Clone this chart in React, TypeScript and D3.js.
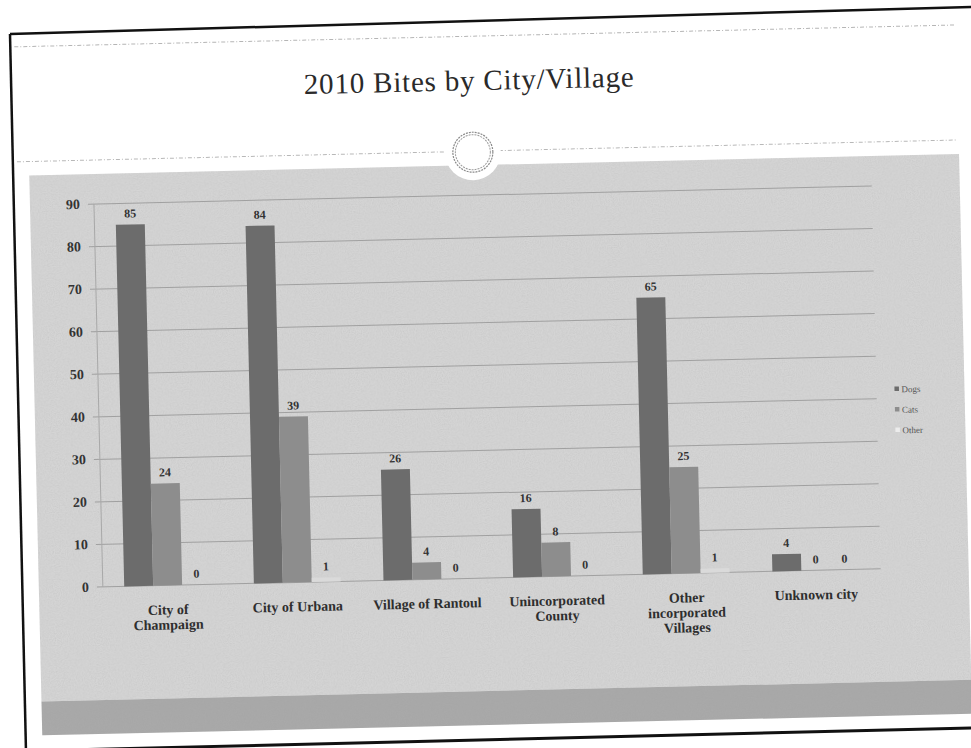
import React from "react";
import * as d3 from "d3";

// ---- data ----
const categories = [
  "City of Champaign",
  "City of Urbana",
  "Village of Rantoul",
  "Unincorporated County",
  "Other incorporated Villages",
  "Unknown city",
];
const categoryLines = [
  ["City of", "Champaign"],
  ["City of Urbana"],
  ["Village of Rantoul"],
  ["Unincorporated", "County"],
  ["Other", "incorporated", "Villages"],
  ["Unknown city"],
];
const seriesNames = ["Dogs", "Cats", "Other"];
const dogs = [85, 84, 26, 16, 65, 4];
const cats = [24, 39, 4, 8, 25, 0];
const other = [0, 1, 0, 0, 1, 0];
const yTicks = [0, 10, 20, 30, 40, 50, 60, 70, 80, 90];
const title = "2010 Bites by City/Village";

const seriesValues = [dogs, cats, other];
const seriesColors = ["#6c6c6c", "#8d8d8d", "#dadada"];
const legendColors = ["#6c6c6c", "#8d8d8d", "#ececec"];

const W = 971;
const H = 748;
const SERIF = "Georgia, 'Liberation Serif', 'DejaVu Serif', serif";

export default function App() {
  const plotLeft = 98;
  const plotRight = 876;
  const plotTop = 195;
  const plotBottom = 578;

  const x0 = d3
    .scaleBand<string>()
    .domain(categories)
    .range([plotLeft, plotRight])
    .paddingInner(0.33)
    .paddingOuter(0.165);
  const x1 = d3
    .scaleBand<string>()
    .domain(seriesNames)
    .range([0, x0.bandwidth()])
    .padding(0);
  const y = d3.scaleLinear().domain([0, 90]).range([plotBottom, plotTop]);

  return (
    <svg
      width={W}
      height={H}
      style={{ position: "fixed", left: 0, top: 0, background: "#ffffff" }}
    >
      <defs>
        <filter id="grain" x="0" y="0" width="100%" height="100%">
          <feTurbulence type="fractalNoise" baseFrequency="0.85" numOctaves="2" seed="7" result="t" />
          <feColorMatrix in="t" type="matrix"
            values="0 0 0 0 0.45  0 0 0 0 0.45  0 0 0 0 0.45  0 0 0 -1.6 1.1" result="n" />
          <feComposite in="n" in2="SourceGraphic" operator="in" />
        </filter>
      </defs>

      {/* paper edges (scan) */}
      <line x1={10} y1={34} x2={971} y2={7} stroke="#111" strokeWidth={2.5} />
      <line x1={10} y1={34} x2={26} y2={752} stroke="#111" strokeWidth={2.5} />
      <line x1={26} y1={751} x2={971} y2={728} stroke="#111" strokeWidth={3} />

      <g transform="rotate(-1.33 485 374)">
        {/* slide decorations */}
        <line x1={22} y1={36} x2={962} y2={36} stroke="#b5b5b5" strokeWidth={1} strokeDasharray="4 2 1 2" />
        <rect x={34} y={165} width={930} height={526} fill="#d5d5d5" />
        <rect x={34} y={165} width={930} height={526} fill="#000" filter="url(#grain)" opacity={0.35} />
        <rect x={34} y={691} width={930} height={34} fill="#a7a7a7" />
        <rect x={34} y={691} width={930} height={34} fill="#000" filter="url(#grain)" opacity={0.3} />
        <line x1={22} y1={151} x2={452} y2={151} stroke="#b8b8b8" strokeWidth={1} strokeDasharray="4 2 1 2" />
        <line x1={504} y1={151} x2={962} y2={151} stroke="#b8b8b8" strokeWidth={1} strokeDasharray="4 2 1 2" />

        {/* title */}
        <text
          x={476}
          y={90}
          textAnchor="middle"
          fontFamily={SERIF}
          fontSize={29}
          letterSpacing={0.8}
          fill="#2a2a2a"
        >
          {title}
        </text>

        {/* circle ornament */}
        <circle cx={478} cy={152} r={28} fill="#ffffff" />
        <circle cx={478} cy={152} r={20} fill="#ffffff" stroke="#8a8a8a" strokeWidth={1.2} strokeDasharray="2 1" />
        <circle cx={478} cy={152} r={17.5} fill="none" stroke="#9a9a9a" strokeWidth={1} strokeDasharray="2 1" />

        {/* gridlines + y axis */}
        {yTicks.map((t) => (
          <g key={"g" + t}>
            <line x1={plotLeft - 6} x2={plotRight} y1={y(t)} y2={y(t)} stroke="#a0a0a0" strokeWidth={1} />
            <text
              x={84}
              y={y(t) + 4.5}
              textAnchor="end"
              fontFamily={SERIF}
              fontWeight="bold"
              fontSize={14}
              fill="#333"
            >
              {t}
            </text>
          </g>
        ))}
        <line x1={plotLeft} x2={plotLeft} y1={plotTop} y2={plotBottom} stroke="#a8a8a8" strokeWidth={1} />

        {/* bars */}
        {categories.map((c, ci) => (
          <g key={c} transform={`translate(${x0(c)},0)`}>
            {seriesNames.map((s, si) => {
              const v = seriesValues[si][ci];
              const bx = x1(s) as number;
              return (
                <g key={s}>
                  <rect
                    x={bx}
                    y={y(v)}
                    width={x1.bandwidth()}
                    height={y(0) - y(v)}
                    fill={seriesColors[si]}
                  />
                  <text
                    x={bx + x1.bandwidth() / 2}
                    y={y(v) - 7}
                    textAnchor="middle"
                    fontFamily={SERIF}
                    fontWeight="bold"
                    fontSize={12}
                    fill="#333"
                  >
                    {v}
                  </text>
                </g>
              );
            })}
          </g>
        ))}

        {/* category labels */}
        {categories.map((c, ci) => (
          <text
            key={"l" + c}
            x={(x0(c) as number) + x0.bandwidth() / 2}
            y={607}
            textAnchor="middle"
            fontFamily={SERIF}
            fontWeight="bold"
            fontSize={14}
            fill="#2e2e2e"
          >
            {categoryLines[ci].map((ln, li) => (
              <tspan key={li} x={(x0(c) as number) + x0.bandwidth() / 2} dy={li === 0 ? 0 : 15}>
                {ln}
              </tspan>
            ))}
          </text>
        ))}

        {/* legend */}
        {seriesNames.map((s, si) => (
          <g key={"lg" + s}>
            <rect x={894} y={396 + si * 20.5} width={4.5} height={4.5} fill={legendColors[si]} />
            <text
              x={901}
              y={402 + si * 20.5}
              fontFamily={SERIF}
              fontSize={9}
              fill="#555"
            >
              {s}
            </text>
          </g>
        ))}
      </g>
    </svg>
  );
}
